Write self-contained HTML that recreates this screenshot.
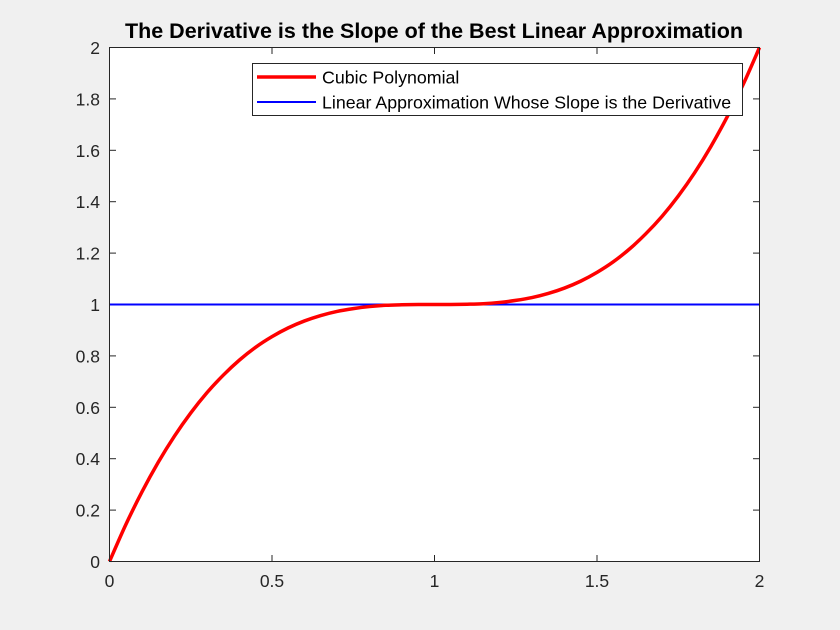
<!DOCTYPE html>
<html><head><meta charset="utf-8"><style>
body{margin:0;background:#f0f0f0;}
svg{display:block;font-family:"Liberation Sans",Arial,sans-serif;}
</style></head><body>
<svg id="chart" width="840" height="630" viewBox="0 0 840 630">
<rect x="0" y="0" width="840" height="630" fill="#f0f0f0"/>
<rect x="109.5" y="47.5" width="650" height="514" fill="#fff"/>
<g id="ticks"></g>
<g id="series"></g>
<rect x="109.5" y="47.5" width="650" height="514" fill="none" stroke="#262626" stroke-width="1"/>
<text x="434" y="38" text-anchor="middle" font-size="21.5" font-weight="bold" fill="#000">The Derivative is the Slope of the Best Linear Approximation</text>
<g>
<rect x="252.5" y="63.5" width="490" height="52" fill="#fff" stroke="#262626"/>
<line x1="257" y1="77" x2="316" y2="77" stroke="#ff0000" stroke-width="3.5"/>
<text x="322" y="83.5" font-size="17.8" fill="#000">Cubic Polynomial</text>
<line x1="257" y1="102" x2="316" y2="102" stroke="#0000ff" stroke-width="2"/>
<text x="322" y="108.5" font-size="17.8" fill="#000">Linear Approximation Whose Slope is the Derivative</text>
</g>
</svg>
<script>
const xTicks=[0,0.5,1,1.5,2];
const xTickLabels=["0","0.5","1","1.5","2"];
const yTicks=[0,0.2,0.4,0.6,0.8,1,1.2,1.4,1.6,1.8,2];
const yTickLabels=["0","0.2","0.4","0.6","0.8","1","1.2","1.4","1.6","1.8","2"];
const cubicX=[0,0.05,0.1,0.15,0.2,0.25,0.3,0.35,0.4,0.45,0.5,0.55,0.6,0.65,0.7,0.75,0.8,0.85,0.9,0.95,1,1.05,1.1,1.15,1.2,1.25,1.3,1.35,1.4,1.45,1.5,1.55,1.6,1.65,1.7,1.75,1.8,1.85,1.9,1.95,2];
const cubicY=[0,0.143,0.271,0.386,0.488,0.578,0.657,0.725,0.784,0.834,0.875,0.909,0.936,0.957,0.973,0.984,0.992,0.997,0.999,1.000,1,1.000,1.001,1.003,1.008,1.016,1.027,1.043,1.064,1.091,1.125,1.166,1.216,1.275,1.343,1.422,1.512,1.614,1.729,1.857,2];
const linearX=[0,2];
const linearY=[1,1];
const NS="http://www.w3.org/2000/svg";
const sx=v=>109.5+v/2*650;
const sy=v=>561.5-v/2*514;
const tg=document.getElementById('ticks'), sg=document.getElementById('series');
function mk(t,a,p){const e=document.createElementNS(NS,t);for(const k in a)e.setAttribute(k,a[k]);p.appendChild(e);return e;}
xTicks.forEach((v,i)=>{
  const x=sx(v);
  let l=mk('line',{x1:x,y1:561.5,x2:x,y2:555,stroke:'#262626'},tg);
  
  
  let l2=mk('line',{x1:x,y1:47.5,x2:x,y2:54,stroke:'#262626'},tg);
  
  
  let t=mk('text',{x:x,y:587,'text-anchor':'middle','font-size':17.5,fill:'#262626'},tg);
  t.textContent=xTickLabels[i];
  
  
});
yTicks.forEach((v,i)=>{
  const y=sy(v);
  let l=mk('line',{x1:109.5,y1:y,x2:116,y2:y,stroke:'#262626'},tg);
  
  
  let l2=mk('line',{x1:759.5,y1:y,x2:753,y2:y,stroke:'#262626'},tg);
  
  
  let t=mk('text',{x:100,y:y+6.5,'text-anchor':'end','font-size':17.5,fill:'#262626'},tg);
  t.textContent=yTickLabels[i];
  
  
});
let lin=mk('polyline',{points:linearX.map((x,i)=>sx(x)+','+sy(linearY[i])).join(' '),fill:'none',stroke:'#0000ff','stroke-width':2},sg);


// smooth path through the data points (Catmull-Rom)
const P=cubicX.map((x,i)=>[sx(x),sy(cubicY[i])]);
let d='M'+P[0][0]+','+P[0][1];
for(let i=0;i<P.length-1;i++){
  const p0=P[Math.max(0,i-1)],p1=P[i],p2=P[i+1],p3=P[Math.min(P.length-1,i+2)];
  const c1=[p1[0]+(p2[0]-p0[0])/6,p1[1]+(p2[1]-p0[1])/6];
  const c2=[p2[0]-(p3[0]-p1[0])/6,p2[1]-(p3[1]-p1[1])/6];
  d+=' C'+c1[0]+','+c1[1]+' '+c2[0]+','+c2[1]+' '+p2[0]+','+p2[1];
}
let cub=mk('path',{d:d,fill:'none',stroke:'#ff0000','stroke-width':3.5,'stroke-linejoin':'round'},sg);


</script>
</body></html>
